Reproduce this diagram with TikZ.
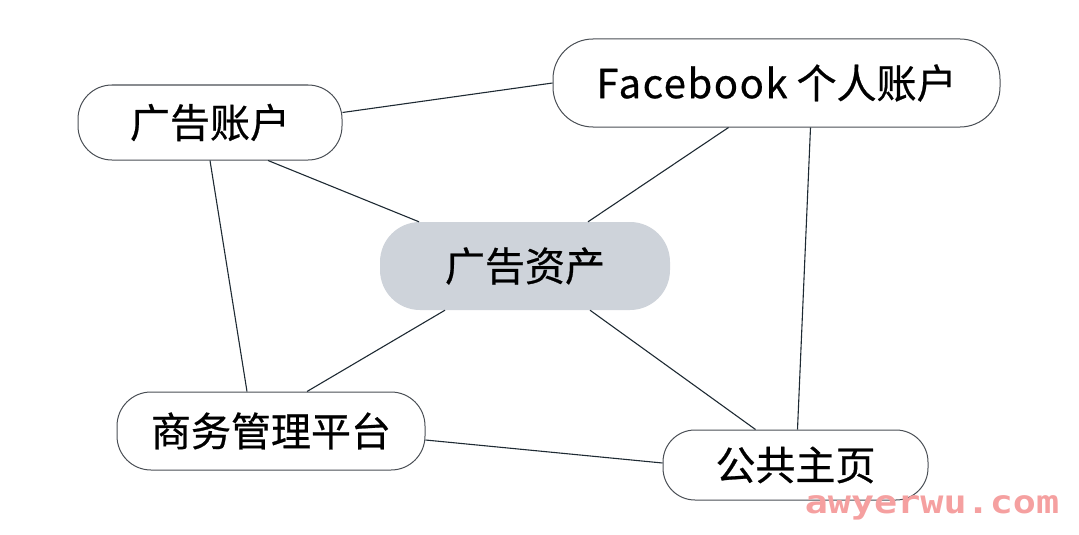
\documentclass[tikz,border=0pt]{standalone}
\usepackage{fontspec}
\setmainfont{Noto Sans CJK SC}[FakeBold=0.6]
\newfontfamily\latinfb{Noto Sans CJK SC}[FakeBold=0.6, LetterSpace=4]
\newfontfamily\wmfont{DejaVu Sans Mono Bold}
\definecolor{boxline}{HTML}{4A4F55}
\definecolor{centerfill}{HTML}{CED3DA}
\definecolor{wmpink}{HTML}{F5A0A0}
\definecolor{edgecol}{HTML}{1E2A33}
\begin{document}
\begin{tikzpicture}[x=1pt,y=-1pt,
  pill/.style={draw=boxline, line width=1pt, fill=white, rounded corners=34pt,
    inner sep=0pt, font=\fontsize{40}{44}\selectfont},
  hub/.style={fill=centerfill, rounded corners=40pt, inner sep=0pt,
    font=\fontsize{40}{44}\selectfont},
  link/.style={draw=edgecol, line width=1.1pt}]
\useasboundingbox (0,0) rectangle (1079,535);
\node[pill, minimum width=264pt, minimum height=75pt] (acct) at (210,122.5) {广告账户};
\node[pill, minimum width=447pt, minimum height=88pt, rounded corners=40pt] (fb) at (776.5,83) {{\latinfb Facebook} 个人账户};
\node[hub, minimum width=290pt, minimum height=88pt] (asset) at (525,266) {广告资产};
\node[pill, minimum width=308pt, minimum height=78pt] (bm) at (271,431) {商务管理平台};
\node[pill, minimum width=265pt, minimum height=70pt, rounded corners=32pt] (page) at (795.5,465) {公共主页};
\node[text=wmpink, font=\wmfont\fontsize{32}{34}\selectfont, xscale=1.2, anchor=base] (wm) at (932,513) {awyerwu.com};
\draw[link] ([yshift=10pt]acct.east) -- (fb.west);
\draw[link] ([xshift=58pt]acct.south) -- ([xshift=-106pt]asset.north);
\draw[link] (acct.south) -- ([xshift=-24pt]bm.north);
\draw[link] ([xshift=-48pt]fb.south) -- ([xshift=63pt]asset.north);
\draw[link] ([xshift=34pt]fb.south) -- ([xshift=2pt]page.north);
\draw[link] ([xshift=-80pt]asset.south) -- ([xshift=36pt]bm.north);
\draw[link] ([xshift=65pt]asset.south) -- ([xshift=-40pt]page.north);
\draw[link] ([yshift=-9pt]bm.east) -- ([yshift=2pt]page.west);
\end{tikzpicture}
\end{document}
